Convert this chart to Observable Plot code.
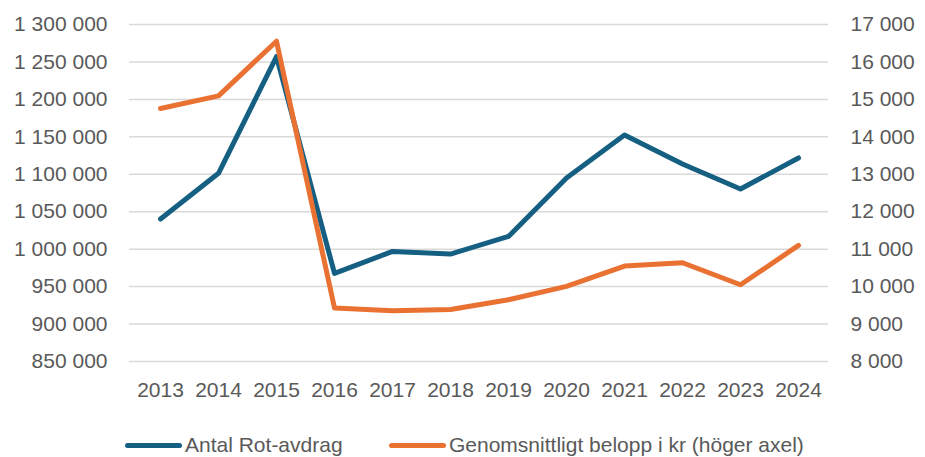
<!DOCTYPE html>
<html>
<head>
<meta charset="utf-8">
<script src="https://cdn.jsdelivr.net/npm/d3@7"></script>
<script src="https://cdn.jsdelivr.net/npm/@observablehq/plot@0.6"></script>
<style>
  html, body { margin: 0; padding: 0; background: #fff; }
  #chart { width: 925px; }
  .legend { position: relative; height: 57px; font-family: "Liberation Sans", Arial, sans-serif; font-size: 21px; color: #595959; }
  .item { position: absolute; top: 33px; height: 24px; line-height: 24px; display: flex; align-items: center; white-space: nowrap; }
  .sw { width: 57px; height: 5px; border-radius: 2.5px; margin-right: 3px; }
</style>
</head>
<body>
<div id="chart"></div>
<script>
const years = ["2013","2014","2015","2016","2017","2018","2019","2020","2021","2022","2023","2024"];
const antalRot = [1040300, 1101300, 1257000, 967600, 997000, 993500, 1017000, 1095000, 1152500, 1113800, 1080400, 1121800];
const snittBelopp = [14755, 15094, 16554, 9427, 9355, 9390, 9649, 10005, 10550, 10638, 10050, 11101];
const leftTicks = [850000, 900000, 950000, 1000000, 1050000, 1100000, 1150000, 1200000, 1250000, 1300000];
const rightTicks = [8000, 9000, 10000, 11000, 12000, 13000, 14000, 15000, 16000, 17000];
const seriesNames = ["Antal Rot-avdrag", "Genomsnittligt belopp i kr (höger axel)"];
const colors = ["#156082", "#E97132"];

// map right axis value to left scale
const toLeft = v => 850000 + (v - 8000) * 50;
const fromLeft = v => 8000 + (v - 850000) / 50;
const fmt = v => d3.format(",")(Math.round(v)).replace(/,/g, " ");

const blue = years.map((y, i) => ({year: y, value: antalRot[i]}));
const orange = years.map((y, i) => ({year: y, value: toLeft(snittBelopp[i])}));

const chart = Plot.plot({
  width: 925,
  height: 400,
  marginTop: 24,
  marginBottom: 39,
  marginLeft: 129,
  marginRight: 97,
  style: {fontFamily: "'Liberation Sans', Arial, sans-serif", fontSize: "21px", color: "#595959", background: "#fff"},
  x: {domain: years, type: "point", padding: 0.5, label: null},
  y: {domain: [850000, 1300000], label: null},
  marks: [
    Plot.gridY(leftTicks, {stroke: "#d9d9d9", strokeOpacity: 1, strokeWidth: 1.5}),
    Plot.axisY(leftTicks, {anchor: "left", tickSize: 0, tickPadding: 22, tickFormat: fmt, label: null, fill: "#595959", fontSize: 21}),
    Plot.axisY(rightTicks.map(toLeft), {anchor: "right", tickSize: 0, tickPadding: 22, tickFormat: v => fmt(fromLeft(v)), label: null, textAnchor: "start", fill: "#595959", fontSize: 21}),
    Plot.axisX(years, {anchor: "bottom", tickSize: 0, tickPadding: 21, label: null, fill: "#595959", fontSize: 21}),
    Plot.line(blue, {x: "year", y: "value", stroke: colors[0], strokeWidth: 5, strokeLinejoin: "round", strokeLinecap: "round"}),
    Plot.line(orange, {x: "year", y: "value", stroke: colors[1], strokeWidth: 5, strokeLinejoin: "round", strokeLinecap: "round"})
  ]
});
document.getElementById("chart").appendChild(chart);

const legend = document.createElement("div");
legend.className = "legend";
const lefts = [125, 389];
seriesNames.forEach((name, i) => {
  const it = document.createElement("div");
  it.className = "item";
  it.style.left = lefts[i] + "px";
  const sw = document.createElement("span");
  sw.className = "sw";
  sw.style.background = colors[i];
  const tx = document.createElement("span");
  tx.textContent = name;
  it.appendChild(sw);
  it.appendChild(tx);
  legend.appendChild(it);
});
document.getElementById("chart").appendChild(legend);
</script>
</body>
</html>
